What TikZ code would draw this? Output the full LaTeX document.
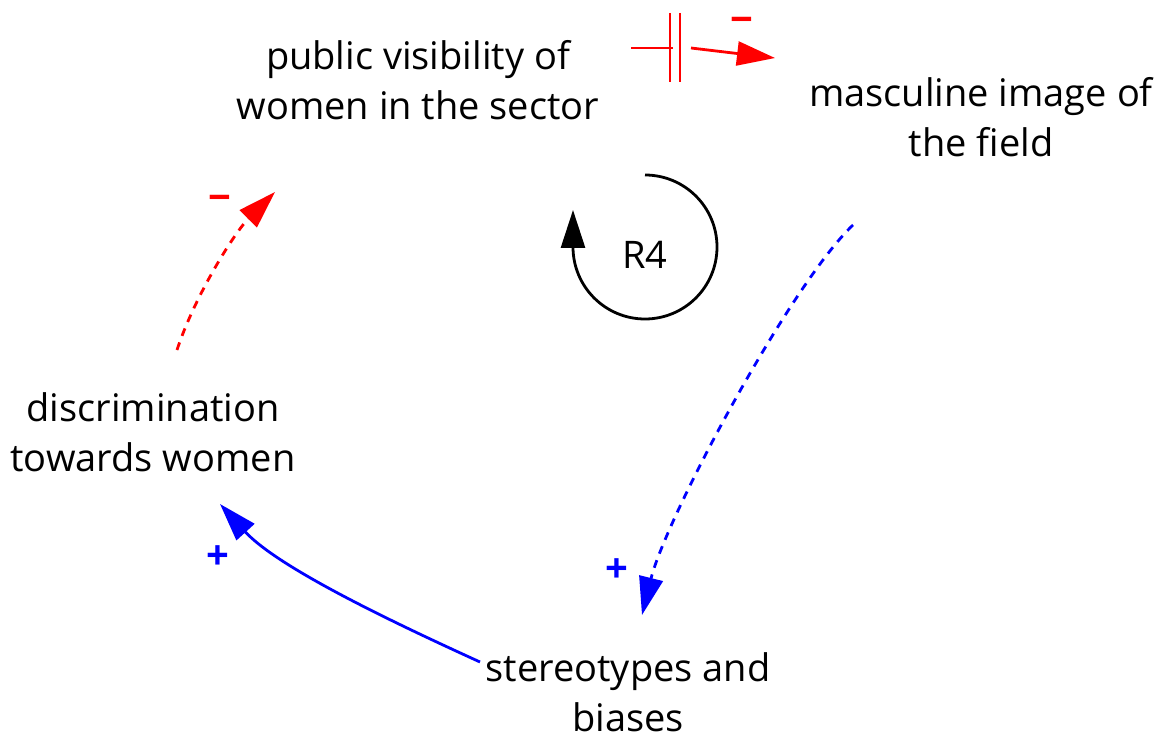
\documentclass[tikz,border=0pt]{standalone}
\usepackage{fontspec}
\setmainfont{Open Sans}
\usetikzlibrary{arrows.meta}
\begin{document}
\begin{tikzpicture}[x=1pt,y=-1pt,
  lbl/.style={align=center, font=\fontsize{38}{50}\selectfont, inner sep=0pt},
  sgn/.style={font=\fontsize{40}{40}\selectfont\bfseries, inner sep=0pt},
  arrowtip/.style={-{Triangle[length=38pt,width=24pt]}},
  link/.style={line width=2.8pt},
  dashlink/.style={line width=2.8pt, dash pattern=on 8pt off 7pt},
]
\useasboundingbox (0,0) rectangle (1165,738);
% variables
\node[lbl] (pv) at (418,80) {public visibility of\\women in the sector};
\node[lbl] (mi) at (981,117) {masculine image of\\the field};
\node[lbl] (dw) at (153,432) {discrimination\\towards women};
\node[lbl] (sb) at (628,692) {stereotypes and\\biases};
\node[lbl] (r4) at (645,255) {R4};
% end points of links
\coordinate (pvR) at (631,48);
\coordinate (d1) at (673,48);
\coordinate (d2) at (691,48);
\coordinate (miL) at (775,58);
\coordinate (miB) at (853,225);
\coordinate (sbT) at (642,615);
\coordinate (sbL) at (480,662);
\coordinate (dwT) at (220,504);
\coordinate (dwU) at (177,350);
\coordinate (pvB) at (275,192);
\coordinate (loopS) at (645,175);
% links
\draw[red, link] (pvR) -- (d1);
\draw[red, link] (670,13) -- (670,82);
\draw[red, link] (680,13) -- (680,82);
\draw[red, link, arrowtip] (d2) -- (miL);
\draw[blue, dashlink, arrowtip] (miB) .. controls (790,285) and (666,518) .. (sbT);
\draw[blue, link, arrowtip] (sbL) .. controls (410,630) and (280,570) .. (dwT);
\draw[red, dashlink, arrowtip] (dwU) .. controls (195,295) and (235,232) .. (pvB);
% loop symbol
\draw[black, line width=2.8pt, arrowtip] (loopS) arc[start angle=-90, end angle=180, radius=72] -- ++(0,-37);
% polarities
\node[sgn, red] (s1) at (742,25) {−};
\node[sgn, red] (s2) at (220,203) {−};
\node[sgn, blue] (s3) at (617,571) {+};
\node[sgn, blue] (s4) at (218,558) {+};
\end{tikzpicture}
\end{document}
